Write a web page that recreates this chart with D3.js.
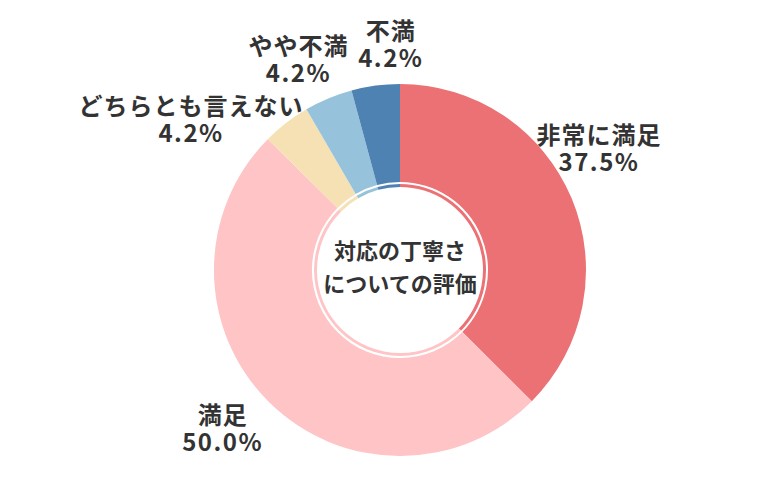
<!DOCTYPE html>
<html>
<head>
<meta charset="utf-8">
<script src="https://cdn.jsdelivr.net/npm/d3@7"></script>
<style>
  body { margin: 0; background: #fff; }
  text { font-family: "Noto Sans CJK JP", "Noto Sans", sans-serif; font-weight: bold; fill: #333; }
</style>
</head>
<body>
<div id="chart"></div>
<script>
// Chart data
var categories = ["非常に満足", "満足", "どちらとも言えない", "やや不満", "不満"];
var percents = [37.5, 50.0, 4.2, 4.2, 4.2];
var colors = ["#eb7174", "#fec4c6", "#f5e1b4", "#96c3db", "#4e82b3"];
var centerLines = ["対応の丁寧さ", "についての評価"];

var width = 780;
var height = 500;
var cx = 400, cy = 270;
var outerR = 186, innerR = 88;

var svg = d3.select("#chart")
    .append("svg")
    .attr("width", width)
    .attr("height", height);

var g = svg.append("g")
    .attr("transform", "translate(" + cx + "," + cy + ")");

var data = categories.map(function(c, i) {
    return { name: c, value: percents[i], color: colors[i] };
});

var pie = d3.pie()
    .sort(null)
    .value(d => d.value);

var arcs = pie(data);

var arc = d3.arc()
    .innerRadius(innerR)
    .outerRadius(outerR);

// thin inner ring in slice colours
var ringArc = d3.arc()
    .innerRadius(83)
    .outerRadius(86);

g.selectAll("path.slice")
    .data(arcs)
    .enter().append("path")
    .attr("class", "slice")
    .attr("d", arc)
    .style("fill", d => d.data.color);

g.selectAll("path.ring")
    .data(arcs)
    .enter().append("path")
    .attr("class", "ring")
    .attr("d", ringArc)
    .style("fill", d => d.data.color);

// Labels placed around the donut, nudged to sit clear of the slices
var labelArc = d3.arc().innerRadius(222).outerRadius(222);
var nudge = {
    "非常に満足": [-6, -37],
    "満足": [-21, 0],
    "どちらとも言えない": [-73, 25],
    "やや不満": [-16, -6],
    "不満": [20, -6]
};

var labelG = g.selectAll("g.label")
    .data(arcs)
    .enter().append("g")
    .attr("class", "label")
    .attr("transform", function(d) {
        var p = labelArc.centroid(d);
        var n = nudge[d.data.name];
        return "translate(" + (p[0] + n[0]) + "," + (p[1] + n[1]) + ")";
    });

labelG.append("text")
    .attr("x", 0)
    .attr("y", -4)
    .style("text-anchor", "middle")
    .style("font-size", "24px")
    .style("letter-spacing", "1px")
    .text(d => d.data.name);

labelG.append("text")
    .attr("x", 0)
    .attr("y", 23)
    .style("text-anchor", "middle")
    .style("font-size", "24px")
    .style("letter-spacing", "1.5px")
    .text(d => d.data.value.toFixed(1) + "%");

// Centre title
g.selectAll("text.center")
    .data(centerLines)
    .enter().append("text")
    .attr("class", "center")
    .attr("x", 0)
    .attr("y", (d, i) => -19 + i * 33)
    .attr("dy", "0.35em")
    .style("text-anchor", "middle")
    .style("font-size", "22px")
    .text(d => d);
</script>
</body>
</html>
